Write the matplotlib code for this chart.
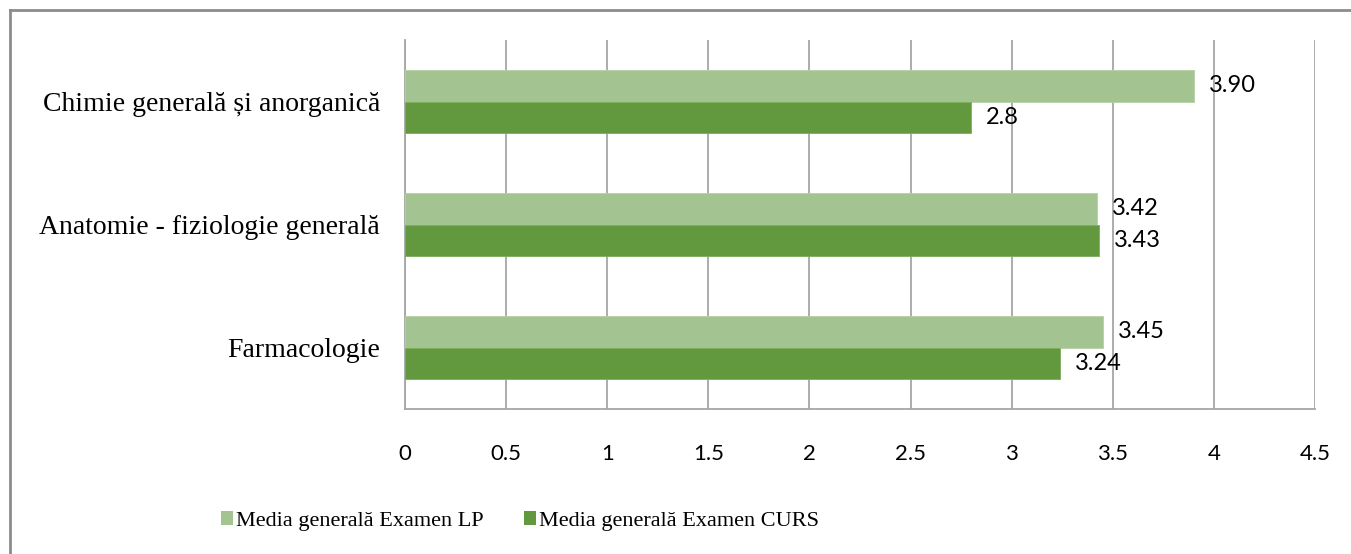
import matplotlib
matplotlib.use("Agg")
import matplotlib.pyplot as plt
from matplotlib.lines import Line2D
from matplotlib.patches import Patch
import numpy as np

categories = ["Chimie generală și anorganică", "Anatomie - fiziologie generală", "Farmacologie"]
lp_values = [3.90, 3.42, 3.45]
curs_values = [2.8, 3.43, 3.24]
lp_labels = ["3.90", "3.42", "3.45"]
curs_labels = ["2.8", "3.43", "3.24"]
series_names = ["Media generală Examen LP", "Media generală Examen CURS"]
xticks = [0, 0.5, 1, 1.5, 2, 2.5, 3, 3.5, 4, 4.5]
xtick_labels = ["0", "0.5", "1", "1.5", "2", "2.5", "3", "3.5", "4", "4.5"]

light = "#A3C490"
dark = "#62993E"
grid = "#A6A6A6"

W, H = 1351, 554
fig = plt.figure(figsize=(W / 100, H / 100), dpi=100)
ax = fig.add_axes([405 / W, 1 - 409 / H, 910 / W, 369 / H])

n = len(categories)
y = np.arange(n)[::-1].astype(float)  # top category at top
bh = 0.26
ax.barh(y + bh / 2, lp_values, height=bh, color=light, edgecolor="#B5D0A5", linewidth=0.6, zorder=3)
ax.barh(y - bh / 2, curs_values, height=bh, color=dark, edgecolor="#7AAE5A", linewidth=0.6, zorder=3)

num_font = "Lato"
for yi, v, t in zip(y, lp_values, lp_labels):
    ax.annotate(t, (v, yi + bh / 2), xytext=(15, 0), textcoords="offset pixels",
                va="center", ha="left", fontsize=17, family=num_font, color="black", zorder=4)
for yi, v, t in zip(y, curs_values, curs_labels):
    ax.annotate(t, (v, yi - bh / 2), xytext=(15, 0), textcoords="offset pixels",
                va="center", ha="left", fontsize=17, family=num_font, color="black", zorder=4)

ax.set_xlim(0, 4.5)
ax.set_ylim(-0.5, n - 0.5)
ax.set_xticks(xticks)
ax.set_xticklabels(xtick_labels, fontsize=16, family=num_font)
ax.set_yticks(y)
ax.set_yticklabels(categories, fontsize=20, family="Liberation Serif")
ax.tick_params(axis="x", length=0, pad=25)
ax.tick_params(axis="y", length=0, pad=18)
ax.grid(axis="x", color=grid, linewidth=1.3, zorder=0)
for s in ["top", "right"]:
    ax.spines[s].set_visible(False)
for s in ["left", "bottom"]:
    ax.spines[s].set_color(grid)
    ax.spines[s].set_linewidth(1.3)

handles = [Patch(facecolor=light, edgecolor="none"), Patch(facecolor=dark, edgecolor="none")]
fig.legend(handles, series_names, loc="center", bbox_to_anchor=(520 / W, 1 - 521 / H), ncol=2,
           frameon=False, prop={"family": "Liberation Serif", "size": 16},
           handlelength=0.55, handleheight=0.55, handletextpad=0.15, columnspacing=1.8)

# outer border (top and left visible)
fig.add_artist(Line2D([10 / W, 10 / W], [0, 1 - 10 / H], transform=fig.transFigure, color="#8C8C8C", linewidth=2))
fig.add_artist(Line2D([10 / W, 1], [1 - 10 / H, 1 - 10 / H], transform=fig.transFigure, color="#8C8C8C", linewidth=2))

fig.savefig("out.png", dpi=100, facecolor="white")
